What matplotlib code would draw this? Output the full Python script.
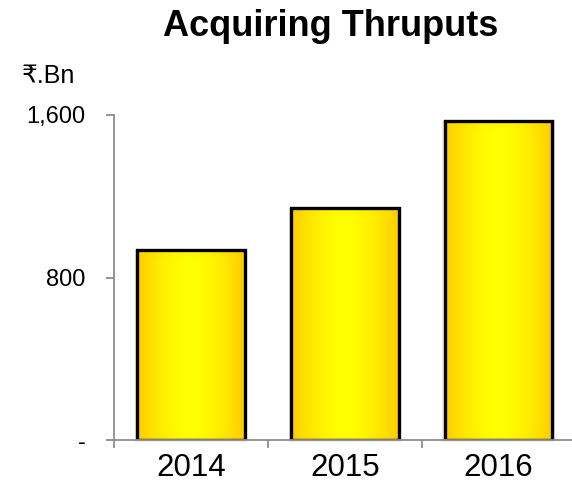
import matplotlib
matplotlib.use("Agg")
import matplotlib.pyplot as plt
import numpy as np
from matplotlib.patches import Rectangle

# acquiring thruputs, Rs. billion
years = ["2014", "2015", "2016"]
values = [935, 1140, 1570]
yticks = [0, 800, 1600]
ytick_labels = ["-", "800", "1,600"]

plt.rcParams['font.family'] = ['Liberation Sans', 'DejaVu Sans']

fig = plt.figure(figsize=(5.72, 4.84), dpi=100)
W, H = 572, 484
ax = fig.add_axes([114 / W, 1 - 440 / H, (575.5 - 114) / W, (440 - 115) / H])

bar_w = 0.7
x = np.arange(len(years))
ax.set_xlim(-0.5, 2.5)
ax.set_ylim(0, 1600)

gold = np.array([1.0, 0.8, 0.0])
yellow = np.array([1.0, 1.0, 0.0])
px_per_unit = 325 / 1600.0

for xi, v in zip(x, values):
    x0 = xi - bar_w / 2
    # faint drop shadow
    ax.add_patch(Rectangle((x0 - 0.015, -8), bar_w + 0.03, v + 8, facecolor="#000000",
                           alpha=0.08, edgecolor="none", zorder=1, clip_on=False))
    # horizontal gold-yellow-gold gradient with a soft bevel at top and bottom
    nx, ny = 120, max(int(v * px_per_unit), 2)
    t = np.linspace(0, 1, nx)
    mix = 1 - np.abs(2 * t - 1) ** 1.7
    row = gold[None, :] * (1 - mix[:, None]) + yellow[None, :] * mix[:, None]
    img = np.repeat(row[None, :, :], ny, axis=0)
    yy = np.arange(ny)[:, None]
    bevel = 10.0
    top = np.clip(1 - yy / bevel, 0, 1)
    bot = np.clip(1 - (ny - 1 - yy) / bevel, 0, 1)
    shade = np.clip(0.12 * top + 0.08 * bot, 0, 1)
    img = img.copy()
    img[:, :, 1] = img[:, :, 1] * (1 - shade) + 0.74 * shade
    im = ax.imshow(img, extent=(x0, x0 + bar_w, 0, v), origin="upper",
                   aspect="auto", zorder=2, interpolation="bilinear")
    rect = Rectangle((x0, 0), bar_w, v, facecolor="none", edgecolor="black",
                     linewidth=2.4, zorder=3)
    ax.add_patch(rect)
    im.set_clip_path(rect)

ax.set_xlim(-0.5, 2.5)
ax.set_ylim(0, 1600)

for s in ["top", "right"]:
    ax.spines[s].set_visible(False)
for s in ["left", "bottom"]:
    ax.spines[s].set_color("#8c8c8c")
    ax.spines[s].set_linewidth(1.3)
ax.spines["bottom"].set_zorder(4)

ax.set_yticks(yticks)
ax.set_yticklabels(ytick_labels, fontsize=17)
ax.tick_params(axis="y", length=5.5, width=1.3, color="#8c8c8c", pad=15)

ax.set_xticks([-0.5, 0.5, 1.5])
ax.set_xticklabels([])
ax.set_xticks(x, minor=True)
ax.set_xticklabels(years, minor=True, fontsize=22.5)
ax.tick_params(axis="x", which="major", length=6, width=1.3, color="#8c8c8c")
ax.tick_params(axis="x", which="minor", length=0, pad=9)

fig.text(331 / W, 1 - 27 / H, "Acquiring Thruputs", ha="center", va="center",
         fontsize=26, fontweight="bold")
fig.text(22 / W, 1 - 83 / H, "₹.Bn", ha="left", va="baseline", fontsize=18)

fig.savefig("out.png", dpi=100)
